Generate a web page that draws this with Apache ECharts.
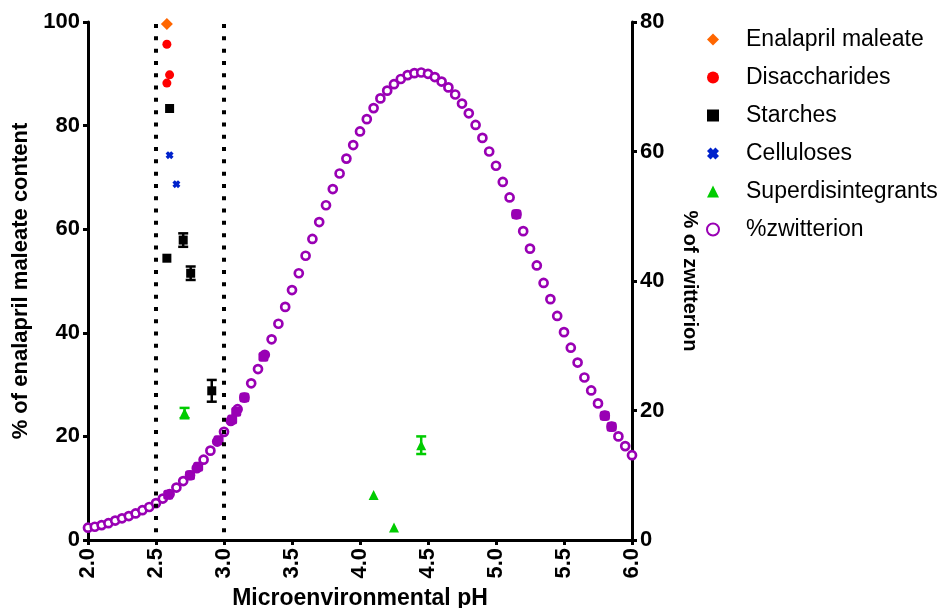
<!DOCTYPE html>
<html>
<head>
<meta charset="utf-8">
<script src="https://cdn.jsdelivr.net/npm/echarts@6/dist/echarts.min.js"></script>
<style>
html, body { margin: 0; padding: 0; background: #fff; }
#chart { width: 946px; height: 608px; }
</style>
</head>
<body>
<div id="chart"></div>
<script>
// left axis: % of enalapril maleate content, points are [pH, value]
var enalapril = [[2.58, 99.6]];
var disaccharides = [[2.58, 95.7], [2.60, 89.8], [2.58, 88.2]];
var starches = [[2.60, 83.3], [2.70, 57.9], [2.58, 54.4], [2.755, 51.5], [2.91, 28.8]];
var celluloses = [[2.60, 74.3], [2.65, 68.7]];
var superdisintegrants = [[2.71, 24.5], [4.45, 18.3], [4.10, 8.7], [4.25, 2.4]];

// error bars [pH, low, high]
var starchErr = [[2.70, 56.6, 59.2], [2.755, 50.2, 52.8], [2.91, 26.7, 30.9]];
var superErr = [[2.71, 23.5, 25.5], [4.45, 16.6, 20.0]];

// right axis: % of zwitterion
var zwPh = [2.00, 2.05, 2.10, 2.15, 2.20, 2.25, 2.30, 2.35, 2.40, 2.45,
            2.50, 2.55, 2.60, 2.65, 2.70, 2.75, 2.80, 2.85, 2.90, 2.95,
            3.00, 3.05, 3.10, 3.15, 3.20, 3.25, 3.30, 3.35, 3.40, 3.45,
            3.50, 3.55, 3.60, 3.65, 3.70, 3.75, 3.80, 3.85, 3.90, 3.95,
            4.00, 4.05, 4.10, 4.15, 4.20, 4.25, 4.30, 4.35, 4.40, 4.45,
            4.50, 4.55, 4.60, 4.65, 4.70, 4.75, 4.80, 4.85, 4.90, 4.95,
            5.00, 5.05, 5.10, 5.15, 5.20, 5.25, 5.30, 5.35, 5.40, 5.45,
            5.50, 5.55, 5.60, 5.65, 5.70, 5.75, 5.80, 5.85, 5.90, 5.95, 6.00];
var zwValues = [1.9, 2.05, 2.3, 2.6, 3.0, 3.35, 3.7, 4.1, 4.6, 5.1,
                5.7, 6.4, 7.1, 8.1, 9.1, 10.0, 11.1, 12.4, 13.8, 15.2,
                16.7, 18.4, 20.2, 22.0, 24.2, 26.4, 28.6, 31.0, 33.4, 36.0,
                38.6, 41.2, 43.9, 46.5, 49.1, 51.7, 54.2, 56.6, 58.9, 61.0,
                63.1, 65.0, 66.7, 68.2, 69.4, 70.4, 71.2, 71.8, 72.1, 72.2,
                72.0, 71.5, 70.8, 69.9, 68.8, 67.4, 65.9, 64.1, 62.1, 60.0,
                57.8, 55.3, 52.9, 50.3, 47.7, 45.0, 42.4, 39.7, 37.2, 34.6,
                32.1, 29.7, 27.4, 25.1, 23.1, 21.1, 19.2, 17.5, 16.0, 14.5, 13.1];
// zwitterion at the measured sample pH (filled markers)
var zwSamples = [[2.59, 7.0], [2.75, 10.0], [2.81, 11.3], [2.96, 15.4], [3.06, 18.6],
                 [3.09, 19.8], [3.15, 22.0], [3.29, 28.3], [5.15, 50.3], [5.80, 19.2], [5.85, 17.5]];

var limitLines = [2.5, 3.0];

var FONT = 'Liberation Sans, Arial, sans-serif';
var PURPLE = '#9900B4';

function zwData() {
    var out = [];
    for (var i = 0; i < zwPh.length; i++) out.push([zwPh[i], zwValues[i]]);
    return out;
}

function errorBar(color) {
    return function (params, api) {
        var x = api.value(0);
        var top = api.coord([x, api.value(2)]);
        var bot = api.coord([x, api.value(1)]);
        var w = 5;
        var st = { stroke: color, lineWidth: 2.5 };
        return {
            type: 'group',
            children: [
                { type: 'line', shape: { x1: top[0], y1: top[1], x2: bot[0], y2: bot[1] }, style: st },
                { type: 'line', shape: { x1: top[0] - w, y1: top[1], x2: top[0] + w, y2: top[1] }, style: st },
                { type: 'line', shape: { x1: bot[0] - w, y1: bot[1], x2: bot[0] + w, y2: bot[1] }, style: st }
            ]
        };
    };
}

function dotLines() {
    var d = [];
    for (var i = 0; i < limitLines.length; i++) {
        d.push([{ coord: [limitLines[i], 99.6] }, { coord: [limitLines[i], 1] }]);
    }
    return d;
}

var axisLineStyle = { show: true, lineStyle: { color: '#000', width: 3 } };
var tickStyle = { show: true, length: 5, lineStyle: { color: '#000', width: 3 } };
var labelStyle = { color: '#000', fontFamily: FONT, fontWeight: 'bold', fontSize: 22 };

function getChart() {
    var option = {
        animation: false,
        backgroundColor: '#fff',
        textStyle: { fontFamily: FONT },
        grid: { left: 88, right: 314, top: 22, bottom: 68, outerBoundsMode: 'none' },
        legend: {
            orient: 'vertical',
            left: 701,
            top: 23,
            itemWidth: 12,
            itemHeight: 12,
            itemGap: 15,
            textStyle: { color: '#000', fontFamily: FONT, fontSize: 23, padding: [0, 0, 0, 22] },
            data: ['Enalapril maleate', 'Disaccharides', 'Starches', 'Celluloses', 'Superdisintegrants', '%zwitterion']
        },
        xAxis: {
            type: 'value',
            min: 2,
            max: 6,
            interval: 0.5,
            name: 'Microenvironmental pH',
            nameLocation: 'middle',
            nameGap: 47,
            nameTextStyle: { color: '#000', fontFamily: FONT, fontWeight: 'bold', fontSize: 23 },
            axisLine: axisLineStyle,
            axisTick: tickStyle,
            splitLine: { show: false },
            axisLabel: {
                color: '#000', fontFamily: FONT, fontWeight: 'bold', fontSize: 22,
                rotate: 90, margin: 8,
                formatter: function (v) { return v.toFixed(1); }
            }
        },
        yAxis: [{
            type: 'value',
            min: 0,
            max: 100,
            interval: 20,
            name: '% of enalapril maleate content',
            nameLocation: 'middle',
            nameGap: 54,
            nameTextStyle: { color: '#000', fontFamily: FONT, fontWeight: 'bold', fontSize: 22 },
            axisLine: axisLineStyle,
            axisTick: tickStyle,
            splitLine: { show: false },
            axisLabel: Object.assign({ margin: 8 }, labelStyle)
        }, {
            type: 'value',
            min: 0,
            max: 80,
            interval: 20,
            position: 'right',
            name: '% of zwitterion',
            nameLocation: 'middle',
            nameGap: 48,
            nameRotate: -90,
            nameTextStyle: { color: '#000', fontFamily: FONT, fontWeight: 'bold', fontSize: 20 },
            axisLine: axisLineStyle,
            axisTick: tickStyle,
            splitLine: { show: false },
            axisLabel: Object.assign({ margin: 8 }, labelStyle)
        }],
        series: [{
            name: '%zwitterion',
            type: 'scatter',
            yAxisIndex: 1,
            symbol: 'circle',
            symbolSize: 8,
            itemStyle: { color: '#fff', borderColor: PURPLE, borderWidth: 2.7, opacity: 1 },
            data: zwData(),
            z: 2
        }, {
            name: 'zwSample',
            type: 'scatter',
            yAxisIndex: 1,
            symbol: 'roundRect',
            symbolSize: 10,
            itemStyle: { color: PURPLE, opacity: 1 },
            data: zwSamples,
            z: 3
        }, {
            name: 'Enalapril maleate',
            type: 'scatter',
            symbol: 'diamond',
            symbolSize: [12, 12],
            itemStyle: { color: '#FF6600', opacity: 1 },
            data: enalapril,
            z: 5
        }, {
            name: 'Disaccharides',
            type: 'scatter',
            symbol: 'circle',
            symbolSize: 9,
            itemStyle: { color: '#FF0000', opacity: 1 },
            data: disaccharides,
            z: 5
        }, {
            name: 'Starches',
            type: 'scatter',
            symbol: 'rect',
            symbolSize: 9,
            itemStyle: { color: '#000', opacity: 1 },
            data: starches,
            markLine: {
                silent: true,
                symbol: 'none',
                label: { show: false },
                lineStyle: { color: '#000', type: [4, 8.3], width: 4, opacity: 1 },
                data: dotLines()
            },
            z: 5
        }, {
            name: 'Celluloses',
            type: 'scatter',
            symbol: 'path://M0,3 L3,0 L5,2 L7,0 L10,3 L8,5 L10,7 L7,10 L5,8 L3,10 L0,7 L2,5 Z',
            symbolSize: 8,
            itemStyle: { color: '#0022CC', opacity: 1 },
            data: celluloses,
            z: 5
        }, {
            name: 'Superdisintegrants',
            type: 'scatter',
            symbol: 'triangle',
            symbolSize: 10,
            itemStyle: { color: '#00CC00', opacity: 1 },
            data: superdisintegrants,
            z: 5
        }, {
            name: 'starchErr',
            type: 'custom',
            renderItem: errorBar('#000'),
            data: starchErr,
            z: 6
        }, {
            name: 'superErr',
            type: 'custom',
            renderItem: errorBar('#00CC00'),
            data: superErr,
            z: 6
        }]
    };
    return option;
}

function loadChartView(id, option) {
    var myChart = echarts.init(document.getElementById(id));
    myChart.setOption(option);
    window.addEventListener('resize', function () {
        myChart.resize();
    });
    return myChart;
}

loadChartView('chart', getChart());
</script>
</body>
</html>
